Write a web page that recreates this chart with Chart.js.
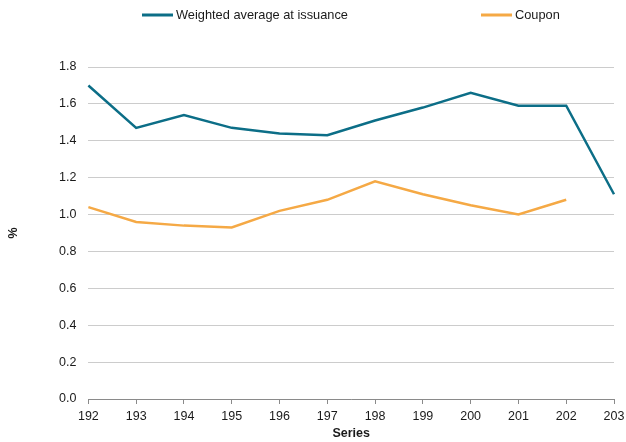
<!DOCTYPE html>
<html>
<head>
<meta charset="utf-8">
<script src="https://cdn.jsdelivr.net/npm/chart.js@4.4.1/dist/chart.umd.min.js"></script>
<style>
  html, body { margin: 0; padding: 0; background: #fff; }
  #wrap { width: 626px; height: 442px; position: relative; }
</style>
</head>
<body>
<div id="wrap"><canvas id="c" width="626" height="442"></canvas></div>
<script>
const categories = ["192","193","194","195","196","197","198","199","200","201","202","203"];
const weightedAverage = [1.70, 1.47, 1.54, 1.47, 1.44, 1.43, 1.51, 1.58, 1.66, 1.59, 1.59, 1.11];
const coupon = [1.04, 0.96, 0.94, 0.93, 1.02, 1.08, 1.18, 1.11, 1.05, 1.00, 1.08, null];
const seriesLabels = ["Weighted average at issuance", "Coupon"];
const yTitle = "%";
const xTitle = "Series";

const TEAL = "#0c6e87";
const ORANGE = "#f5a945";
const FONT = "'Liberation Sans', Arial, sans-serif";

const customLegend = {
  id: "customLegend",
  afterDraw(chart) {
    const ctx = chart.ctx;
    const items = [
      { x0: 142, text: seriesLabels[0], color: TEAL },
      { x0: 481, text: seriesLabels[1], color: ORANGE }
    ];
    const y = 15;
    ctx.save();
    ctx.font = "12.8px " + FONT;
    ctx.textBaseline = "middle";
    ctx.textAlign = "left";
    items.forEach(it => {
      ctx.strokeStyle = it.color;
      ctx.lineWidth = 3;
      ctx.beginPath();
      ctx.moveTo(it.x0, y);
      ctx.lineTo(it.x0 + 31, y);
      ctx.stroke();
      ctx.fillStyle = "#1a1a1a";
      ctx.fillText(it.text, it.x0 + 34, y + 0.5);
    });
    ctx.restore();
  }
};

new Chart(document.getElementById("c"), {
  type: "line",
  data: {
    labels: categories,
    datasets: [
      { label: seriesLabels[0], data: weightedAverage, borderColor: TEAL, backgroundColor: TEAL, borderWidth: 2.5, pointRadius: 0, tension: 0, spanGaps: false },
      { label: seriesLabels[1], data: coupon, borderColor: ORANGE, backgroundColor: ORANGE, borderWidth: 2.5, pointRadius: 0, tension: 0, spanGaps: false }
    ]
  },
  plugins: [customLegend],
  options: {
    responsive: false,
    animation: false,
    devicePixelRatio: 1,
    layout: { padding: { top: 67, left: 2, right: 12, bottom: 1 } },
    plugins: {
      legend: { display: false },
      tooltip: { enabled: false }
    },
    scales: {
      x: {
        type: "category",
        offset: false,
        afterFit: (scale) => { scale.paddingRight = 0; },
        grid: { display: true, drawOnChartArea: false, drawTicks: true, tickLength: 5, color: "#8a8a8a" },
        border: { display: true, color: "#8a8a8a", width: 1 },
        ticks: { color: "#1a1a1a", font: { family: FONT, size: 12.5 }, padding: 5, maxRotation: 0, autoSkip: false },
        title: { display: true, text: xTitle, color: "#1a1a1a", font: { family: FONT, size: 12.5, weight: "bold" }, padding: { top: -3, bottom: 0 } }
      },
      y: {
        min: 0, max: 1.8,
        ticks: { stepSize: 0.2, color: "#1a1a1a", font: { family: FONT, size: 12.5 }, padding: 12, callback: v => Number(v).toFixed(1) },
        grid: { color: "#cccccc", lineWidth: 1, drawTicks: false },
        border: { display: false },
        title: { display: true, text: yTitle, color: "#1a1a1a", font: { family: FONT, size: 12.5, weight: "bold" }, padding: { bottom: 26 } }
      }
    }
  }
});
</script>
</body>
</html>
